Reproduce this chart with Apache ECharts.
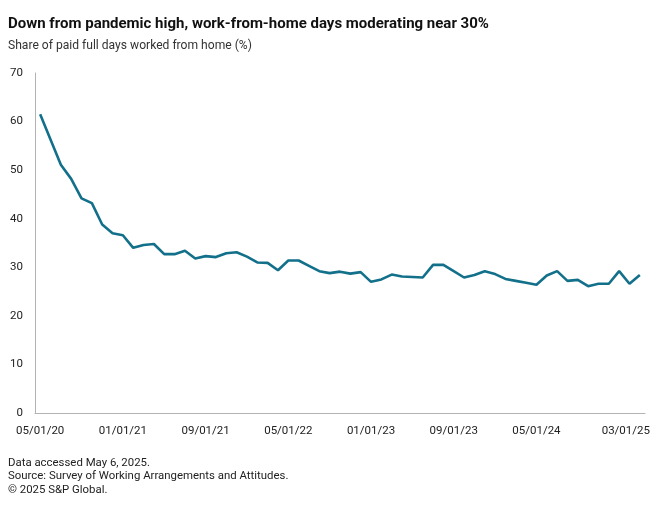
<!DOCTYPE html>
<html>
<head>
<meta charset="utf-8">
<script src="https://cdn.jsdelivr.net/npm/echarts@6/dist/echarts.min.js"></script>
<style>
html,body{margin:0;padding:0;background:#fff;}
#chart{width:660px;height:509px;}
</style>
</head>
<body>
<div id="chart"></div>
<script>
const categories = [
  "05/01/20","06/01/20","07/01/20","08/01/20","09/01/20","10/01/20","11/01/20","12/01/20",
  "01/01/21","02/01/21","03/01/21","04/01/21","05/01/21","06/01/21","07/01/21","08/01/21",
  "09/01/21","10/01/21","11/01/21","12/01/21","01/01/22","02/01/22","03/01/22","04/01/22",
  "05/01/22","06/01/22","07/01/22","08/01/22","09/01/22","10/01/22","11/01/22","12/01/22",
  "01/01/23","02/01/23","03/01/23","04/01/23","05/01/23","06/01/23","07/01/23","08/01/23",
  "09/01/23","10/01/23","11/01/23","12/01/23","01/01/24","02/01/24","03/01/24","04/01/24",
  "05/01/24","06/01/24","07/01/24","08/01/24","09/01/24","10/01/24","11/01/24","12/01/24",
  "01/01/25","02/01/25","03/01/25"
];
const wfhShare = [
  61.5, 56.3, 51.1, 48.2, 44.2, 43.2, 38.8, 37.0,
  36.6, 34.0, 34.6, 34.8, 32.7, 32.7, 33.4, 31.8,
  32.3, 32.1, 32.9, 33.1, 32.2, 31.0, 30.9, 29.4,
  31.4, 31.4, 30.3, 29.2, 28.8, 29.1, 28.7, 29.0,
  27.0, 27.5, 28.5, 28.1, 28.0, 27.9, 30.5, 30.5,
  29.2, 27.9, 28.4, 29.2, 28.6, 27.6, 27.2, 26.8,
  26.4, 28.3, 29.2, 27.2, 27.4, 26.1, 26.6, 26.6,
  29.2, 26.6, 28.4
];
const yTicks = [0, 10, 20, 30, 40, 50, 60, 70];
const labelEvery = 8;
const titleText = "Down from pandemic high, work-from-home days moderating near 30%";
const subtitleText = "Share of paid full days worked from home (%)";
const footerLines = [
  "Data accessed May 6, 2025.",
  "Source: Survey of Working Arrangements and Attitudes.",
  "\u00a9 2025 S&P Global."
];

const FONT = 'Roboto, "Liberation Sans", sans-serif';
const lastIdx = categories.length - 1;
const chart = echarts.init(document.getElementById('chart'), null, {renderer: 'canvas'});
chart.setOption({
  animation: false,
  backgroundColor: '#ffffff',
  textStyle: {fontFamily: FONT},
  title: [
    {text: titleText, left: 3, top: 12,
     textStyle: {fontFamily: FONT, fontSize: 15, fontWeight: 'bold', color: '#111'}},
    {text: subtitleText, left: 3, top: 35,
     textStyle: {fontFamily: FONT, fontSize: 12.1, fontWeight: 'normal', color: '#333'}},
    {text: footerLines.join('\n'), left: 3, top: 451,
     textStyle: {fontFamily: FONT, fontSize: 11.4, fontWeight: 'normal', color: '#222', lineHeight: 13.5}}
  ],
  grid: {left: 35, right: 15, top: 73, bottom: 96, containLabel: false},
  xAxis: {
    type: 'category',
    data: categories,
    boundaryGap: true,
    axisLine: {show: true, lineStyle: {color: '#b3b3b3', width: 1}},
    axisTick: {show: false},
    splitLine: {show: false},
    axisLabel: {
      interval: (i) => (i % labelEvery === 0 && i <= 48) || i === lastIdx,
      margin: 12,
      fontSize: 11.5,
      color: '#222',
      fontFamily: FONT,
      formatter: (v, i) => i === lastIdx ? '{last|' + v + '}' : v,
      rich: {last: {fontSize: 11.5, color: '#222', fontFamily: FONT, padding: [0, 28, 0, 0]}}
    }
  },
  yAxis: {
    type: 'value',
    min: yTicks[0],
    max: yTicks[yTicks.length - 1],
    interval: 10,
    axisLine: {show: true, lineStyle: {color: '#b3b3b3', width: 1}},
    axisTick: {show: false},
    splitLine: {show: false},
    axisLabel: {margin: 12, fontSize: 11.5, color: '#222', fontFamily: FONT}
  },
  series: [{
    type: 'line',
    data: wfhShare,
    symbol: 'none',
    lineStyle: {color: '#13708a', width: 2.6},
    itemStyle: {color: '#13708a'}
  }]
});
</script>
</body>
</html>
